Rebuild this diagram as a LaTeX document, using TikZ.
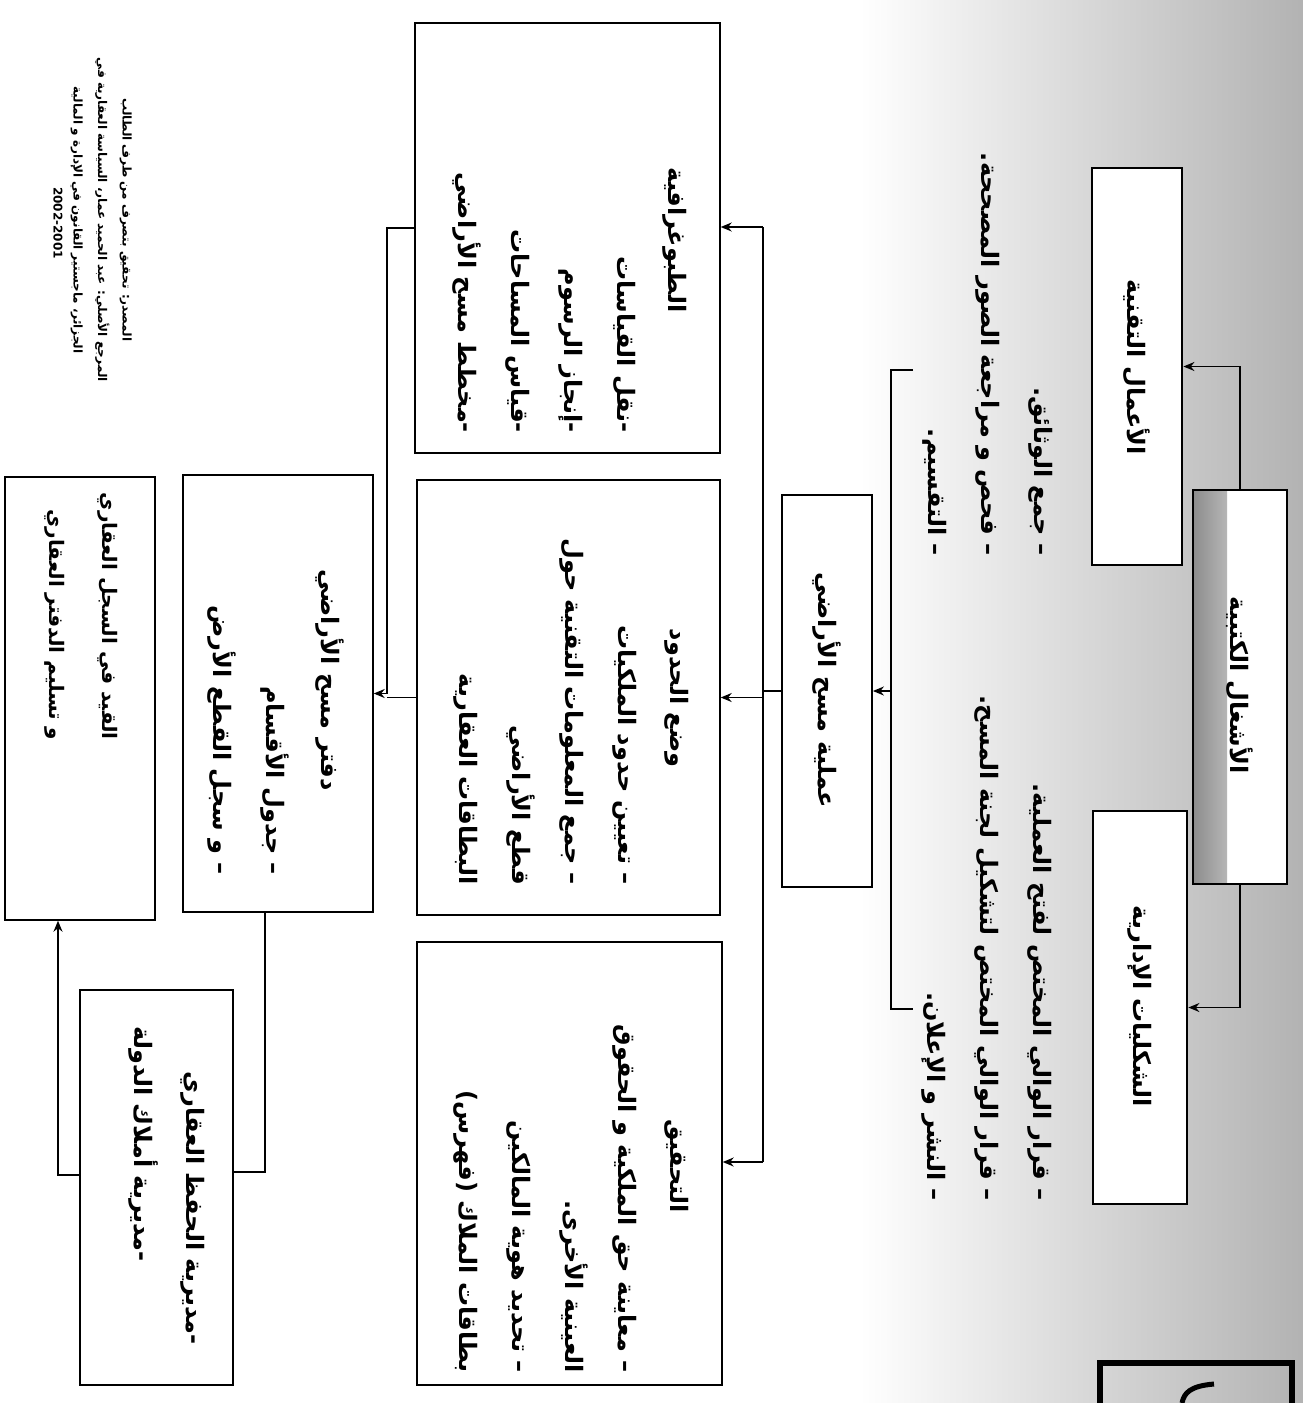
\documentclass[tikz,border=0pt]{standalone}
\usepackage{fontspec}
\usepackage{graphicx}
\usetikzlibrary{arrows.meta}
\newfontfamily\arfont[Script=Arabic]{DejaVu Sans}
\TeXXeTstate=1
\newcommand{\AR}[1]{\beginR #1\endR}
\newcommand{\RT}[1]{\rotatebox{-90}{#1}}
\tikzset{
 thickbox/.style={draw, line width=2.8pt, fill=white, inner sep=0pt},
 thinbox/.style={draw, line width=1.4pt, fill=white, inner sep=0pt},
 artxt/.style={inner sep=0pt, font=\arfont\bfseries\fontsize{24}{53}\selectfont},
 smalltxt/.style={inner sep=0pt, font=\arfont\bfseries\fontsize{20}{53}\selectfont},
 notetxt/.style={inner sep=0pt, font=\arfont\bfseries\fontsize{12}{24.5}\selectfont},
 conn/.style={line width=1.4pt},
 arr/.style={conn, -{Stealth[length=11pt,width=9pt]}},
}
\begin{document}
\begin{tikzpicture}[x=1pt,y=-1pt]
\useasboundingbox (0,0) rectangle (1303,1403);
\fill[white] (0,0) rectangle (1303,1403);
\shade[left color=white, right color=black!30] (860,0) rectangle (1303,1403);

% page number box
\draw[line width=6pt] (1100,1425) -- (1100,1363) -- (1292,1363) -- (1292,1425);
\draw[line width=5pt] (1182,1403) .. controls (1184,1393) and (1190,1386) .. (1214,1384);

% top level
\node[thickbox, minimum width=94pt, minimum height=394pt,
  path picture={\shade[left color=black!45, right color=white]
   (path picture bounding box.north west) rectangle ([xshift=34pt]path picture bounding box.south west);}]
  (root) at (1240,687) {};
\node[artxt] (rootT) at (1240,685) {\RT{\AR{الأشغال الكتبية}}};

\node[thickbox, minimum width=90pt, minimum height=397pt] (tech) at (1137,366.5) {};
\node[artxt] (techT) at (1137,367) {\RT{\AR{الأعمال التقنية}}};

\node[thickbox, minimum width=94pt, minimum height=393pt] (admin) at (1140,1007.5) {};
\node[artxt] (adminT) at (1140,1006) {\RT{\AR{الشكليات الإدارية}}};

\node[artxt, anchor=south] (techL) at (992,556) {\RT{\begin{tabular}{@{}r@{}}
\AR{– جمع الوثائق.}\\
\AR{– فحص و مراجعة الصور المصححة.}\\
\AR{– التقسيم.}
\end{tabular}}};

\node[artxt, anchor=south] (adminL) at (991,1201) {\RT{\begin{tabular}{@{}r@{}}
\AR{– قرار الوالي المختص لفتح العملية.}\\
\AR{– قرار الوالي المختص لتشكيل لجنة المسح.}\\
\AR{– النشر و الإعلان.}
\end{tabular}}};

\draw[arr] (root.north) |- (tech.east);
\draw[arr] (root.south) |- (admin.east);

% operation
\node[thinbox, line width=1.8pt, minimum width=90pt, minimum height=392pt] (op) at (827,691) {};
\node[artxt] (opT) at (827,690) {\RT{\AR{عملية مسح الأراضي}}};

\coordinate (bt) at (891,370);
\coordinate (bb) at (891,1009);
\coordinate (bm) at (891,691);
\draw[conn] ([xshift=22pt]bt) -- (bt) -- (bb) -- ([xshift=22pt]bb);
\draw[arr] (bm) -- (bm -| op.east);

% second level
\node[thinbox, minimum width=305pt, minimum height=430pt] (topo) at (567.5,238) {};
\node[artxt] (topoT) at (675,240) {\RT{\AR{الطبوغرافية}}};
\node[artxt, anchor=south] (topoL) at (548.5,433) {\RT{\begin{tabular}{@{}r@{}}
\AR{-نقل القياسات}\\
\AR{-إنجاز الرسوم}\\
\AR{-قياس المساحات}\\
\AR{-مخطط مسح الأراضي}
\end{tabular}}};

\node[thinbox, minimum width=303pt, minimum height=435pt] (bound) at (568.5,697.5) {};
\node[artxt] (boundT) at (677,698) {\RT{\AR{وضع الحدود}}};
\node[artxt, anchor=south] (boundL) at (550,885) {\RT{\begin{tabular}{@{}r@{}}
\AR{– تعيين حدود الملكيات}\\
\AR{– جمع المعلومات التقنية حول}\\
\AR{قطع الأراضي}\\
\AR{البطاقات العقارية}
\end{tabular}}};

\node[thinbox, minimum width=305pt, minimum height=443pt] (inv) at (569.5,1163.5) {};
\node[artxt] (invT) at (677,1166) {\RT{\AR{التحقيق}}};
\node[artxt, anchor=south] (invL) at (550,1373) {\RT{\begin{tabular}{@{}r@{}}
\AR{– معاينة حق الملكية و الحقوق}\\
\AR{العينية الأخرى.}\\
\AR{– تحديد هوية المالكين}\\
\AR{بطاقات الملاك (فهرس)}
\end{tabular}}};

\coordinate (busT) at (763,227);
\coordinate (busB) at (763,1162);
\draw[conn] (busT) -- (busB);
\draw[conn] (op.west) -- (op.west -| busT);
\draw[arr] (busT) -- (busT -| topo.east);
\draw[arr] (busT |- bound.east) -- (bound.east);
\draw[arr] (busB) -- (busB -| inv.east);

% third level
\node[thinbox, minimum width=190pt, minimum height=437pt] (daftar) at (278,693.5) {};
\node[artxt] (daftarT) at (330,680) {\RT{\AR{دفتر مسح الأراضي}}};
\node[artxt, anchor=south] (daftarL) at (251,875) {\RT{\begin{tabular}{@{}r@{}}
\AR{– جدول الأقسام}\\
\AR{– و سجل القطع الأرض}
\end{tabular}}};

\coordinate (lj) at (387,228);
\draw[arr] (topo.west |- lj) -- (lj) |- (daftar.east);
\draw[conn] (bound.west) -- (bound.west -| lj);

\node[thinbox, minimum width=150pt, minimum height=443pt] (qayd) at (80,698.5) {};
\node[smalltxt, anchor=south] (qaydL) at (87,740) {\RT{\begin{tabular}{@{}r@{}}
\AR{القيد في السجل العقاري}\\
\AR{و تسليم الدفتر العقاري}
\end{tabular}}};

\node[thinbox, minimum width=153pt, minimum height=395pt] (mud) at (156.5,1187.5) {};
\node[artxt, anchor=south] (mudA) at (193,1345) {\RT{\AR{-مديرية الحفظ العقاري}}};
\node[artxt, anchor=south] (mudB) at (143,1262) {\RT{\AR{-مديرية أملاك الدولة}}};

\coordinate (dm) at (265,1172);
\draw[conn] (dm |- daftar.south) -- (dm) -- (dm -| mud.east);
\coordinate (mq) at (58,1175);
\draw[arr] (mud.west |- mq) -- (mq) -- (mq |- qayd.south);

% source note
\node[notetxt] (note) at (103,220) {\RT{\begin{tabular}{@{}c@{}}
\AR{المصدر: تحقيق بتصرف من طرف الطالب}\\
\AR{المرجع الأصلي: عبد الحميد عمار، السياسة العقارية في}\\
\AR{الجزائر، ماجستير القانون في الإدارة و المالية}
\end{tabular}}};
\node[notetxt] (year) at (58,223) {\RT{2002-2001}};
\end{tikzpicture}
\end{document}
